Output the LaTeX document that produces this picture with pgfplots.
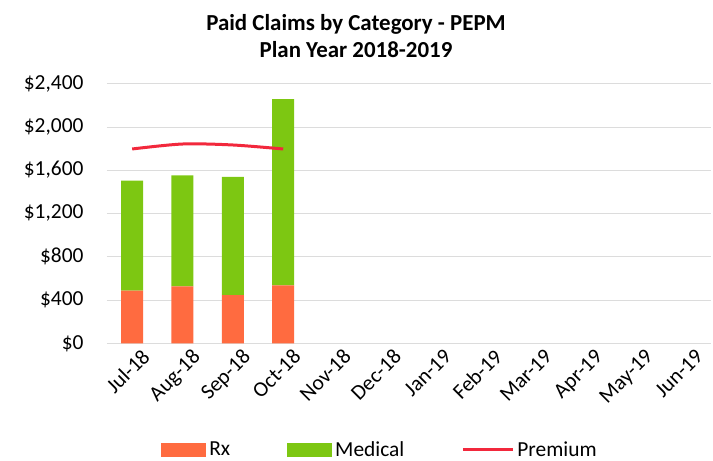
\documentclass[border=0pt]{standalone}
\usepackage{pgfplots}
\pgfplotsset{compat=1.18}
\usepackage{fontspec}
\setmainfont{Carlito}

\definecolor{rxcol}{HTML}{FF6B40}
\definecolor{medcol}{HTML}{7DC712}
\definecolor{premcol}{HTML}{F2283C}
\definecolor{gridcol}{HTML}{DCDCDC}

\pgfplotsset{
  base/.style={
    scale only axis, width=604bp, height=259.8bp,
    at={(0,0)}, anchor=south west,
    xmin=-0.5, xmax=11.5, ymin=0, ymax=2400,
  }
}

\begin{document}
\begin{tikzpicture}
\useasboundingbox (-107bp,-117.7bp) rectangle (606bp,343.3bp);
\begin{axis}[base,
  ybar stacked, bar width=22bp,
  axis y line*=left, axis x line*=bottom,
  y axis line style={draw=none},
  x axis line style={gridcol, line width=0.8pt},
  ymajorgrids, grid style={gridcol, line width=0.6pt},
  ytick={0,400,...,2400},
  yticklabels={\$0,\$400,\$800,\$1{,}200,\$1{,}600,\$2{,}000,\$2{,}400},
  major tick length=0pt,
  ticklabel style={font=\fontsize{21.5}{24}\selectfont},
  /pgf/number format/assume math mode=true,
  yticklabel style={xshift=-20bp},
  xtick={0,...,11},
  xticklabels={Jul-18,Aug-18,Sep-18,Oct-18,Nov-18,Dec-18,Jan-19,Feb-19,Mar-19,Apr-19,May-19,Jun-19},
  xticklabel style={rotate=45, anchor=north east, inner sep=1bp, xshift=4bp, yshift=-8bp},
  legend style={draw=none, fill=none, at={(0.452,-0.41)}, anchor=center,
    legend columns=3, font=\fontsize{21.5}{24}\selectfont,
    /tikz/every odd column/.append style={column sep=1bp},
    /tikz/every even column/.append style={column sep=55bp}},
  legend image code/.code={\fill[#1] (0bp,-7bp) rectangle (45bp,7bp);},
]
\addplot[fill=rxcol, draw=none] coordinates {(0,486) (1,527) (2,446) (3,536)};
\addlegendentry{Rx}
\addplot[fill=medcol, draw=none] coordinates {(0,1016) (1,1025) (2,1091) (3,1719)};
\addlegendentry{Medical}
\addlegendimage{legend image code/.code={\draw[premcol, line width=3bp] (0bp,0bp) -- (50bp,0bp);}}
\addlegendentry{Premium}
\end{axis}
\begin{axis}[base, axis lines=none, ticks=none]
\addplot[premcol, line width=3bp, smooth, tension=0.5] coordinates {(0,1795) (1,1841) (2,1832) (3,1795)};
\end{axis}
\node[font=\fontsize{23}{27.5}\selectfont\bfseries, align=center] at (249bp,307bp)
  {Paid Claims by Category - PEPM\\Plan Year 2018-2019};
\end{tikzpicture}
\end{document}
